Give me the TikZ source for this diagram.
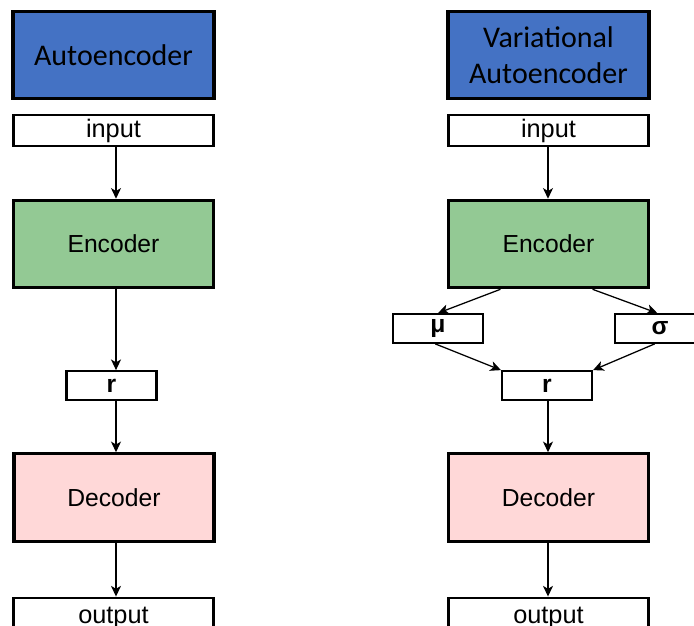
\documentclass[tikz,border=0pt]{standalone}
\usepackage{fontspec}
\setmainfont{Liberation Sans}
\newfontfamily\titlefont{Carlito}
\usetikzlibrary{arrows.meta}
\definecolor{titleblue}{RGB}{68,114,196}
\definecolor{encgreen}{RGB}{147,201,148}
\definecolor{decpink}{RGB}{255,216,216}
\tikzset{
  px/.style={x=0.75pt,y=-0.75pt},
  box/.style={draw=black,rectangle,inner sep=0pt,align=center,text=black},
  titlebox/.style={box,fill=titleblue,line width=2.4pt,minimum width=150.75pt,minimum height=65.5pt,
    font=\titlefont\fontsize{22.5}{27}\selectfont},
  iobox/.style={box,fill=white,line width=2.2pt,minimum width=150pt,minimum height=23.25pt,
    font=\fontsize{19}{20}\selectfont},
  bigbox/.style={box,line width=2.4pt,minimum width=150pt,minimum height=65.5pt,
    font=\fontsize{18.5}{20}\selectfont},
  smallbox/.style={box,fill=white,line width=1.6pt,minimum width=67.5pt,minimum height=21.5pt,
    font=\bfseries\fontsize{18.5}{20}\selectfont},
  link/.style={draw=black,line width=0.95pt,-{Stealth[length=8pt,width=7.5pt,inset=2.2pt]}}
}
\begin{document}
\begin{tikzpicture}[px]
\useasboundingbox (0,0) rectangle (694,626);
\clip (0,0) rectangle (694,626);

% vertical axes of the straight connectors
\coordinate (axL) at (116,0);
\coordinate (axR) at (548,0);

% plain autoencoder
\node[titlebox] (t1) at (113.5,55) {Autoencoder};
\node[iobox] (in1) at (113.5,130.5) {input};
\node[bigbox,fill=encgreen] (enc1) at (113.5,244) {Encoder};
\node[smallbox] (r1) at (111.5,385.5) {r};
\node[bigbox,fill=decpink] (dec1) at (114,497.5) {Decoder};
\node[iobox,minimum height=31.5pt] (out1) at (113.5,619) {\raisebox{5pt}{output}};

\draw[link] (in1.south -| axL) -- (enc1.north -| axL);
\draw[link] (enc1.south -| axL) -- (r1.north -| axL);
\draw[link] (r1.south -| axL) -- (dec1.north -| axL);
\draw[link] (dec1.south -| axL) -- (out1.north -| axL);

% variational autoencoder
\node[titlebox] (t2) at (548.5,55) {Variational\\Autoencoder};
\node[iobox] (in2) at (548.5,130.5) {input};
\node[bigbox,fill=encgreen] (enc2) at (548.5,244) {Encoder};
\node[smallbox] (mu) at (438,328.5) {μ};
\node[smallbox] (sg) at (660,328.5) {σ};
\node[smallbox] (r2) at (547,385.5) {r};
\node[bigbox,fill=decpink] (dec2) at (548.5,497.5) {Decoder};
\node[iobox,minimum height=31.5pt] (out2) at (548.5,619) {\raisebox{5pt}{output}};

\draw[link] (in2.south -| axR) -- (enc2.north -| axR);
\draw[link] ([xshift=-36pt]enc2.south) -- (mu.north);
\draw[link] ([xshift=33pt]enc2.south) -- ([xshift=-2pt]sg.north);
\draw[link] ([xshift=-2pt]mu.south) -- (r2.north west);
\draw[link] ([xshift=-4pt]sg.south) -- (r2.north east);
\draw[link] (r2.south -| axR) -- (dec2.north -| axR);
\draw[link] (dec2.south -| axR) -- (out2.north -| axR);
\end{tikzpicture}
\end{document}
